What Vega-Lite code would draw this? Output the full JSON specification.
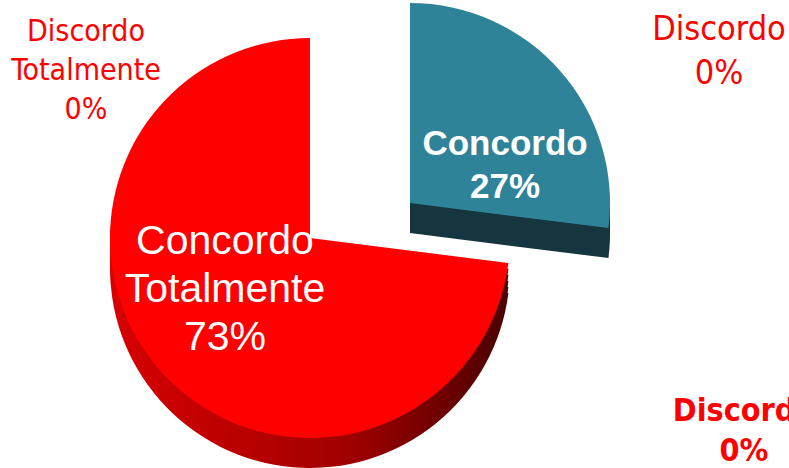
{
  "$schema": "https://vega.github.io/schema/vega-lite/v6.json",
  "width": 620,
  "height": 460,
  "autosize": {"type": "none"},
  "padding": {"left": 0, "top": 8, "right": 169, "bottom": 0},
  "background": "white",
  "config": {"view": {"stroke": null}},
  "data": {"values": [
    {"cat": "Concordo", "value": 27, "ord": 1, "label": ["Concordo", "27%"]},
    {"cat": "Concordo Totalmente", "value": 73, "ord": 2, "label": ["Concordo", "Totalmente", "73%"]},
    {"cat": "Discordo", "value": 0, "ord": 3, "label": ["Discordo", "0%"]},
    {"cat": "Discordo Totalmente", "value": 0, "ord": 4, "label": ["Discordo", "Totalmente", "0%"]}
  ]},
  "transform": [
    {"stack": "value", "groupby": [], "sort": [{"field": "ord", "order": "ascending"}], "as": ["t0", "t1"]}
  ],
  "encoding": {
    "theta": {"field": "t0", "type": "quantitative", "scale": {"domain": [0, 100]}},
    "theta2": {"field": "t1"}
  },
  "layer": [
    {"transform": [{"filter": "datum.cat === 'Concordo'"}], "mark": {"type": "arc", "radius": 200, "xOffset": 100, "yOffset": -5, "fill": "#15363f"}},
    {"transform": [{"filter": "datum.cat === 'Concordo'"}], "mark": {"type": "arc", "radius": 200, "xOffset": 100, "yOffset": -12, "fill": "#15363f"}},
    {"transform": [{"filter": "datum.cat === 'Concordo'"}], "mark": {"type": "arc", "radius": 200, "xOffset": 100, "yOffset": -19, "fill": "#15363f"}},
    {"transform": [{"filter": "datum.cat === 'Concordo'"}], "mark": {"type": "arc", "radius": 200, "xOffset": 100, "yOffset": -27, "fill": "#15363f"}},
    {"transform": [{"filter": "datum.cat === 'Concordo'"}], "mark": {"type": "arc", "radius": 200, "xOffset": 100, "yOffset": -35, "fill": "#2f8399"}},
    {"transform": [{"filter": "datum.cat === 'Concordo Totalmente'"}], "mark": {"type": "arc", "radius": 200, "yOffset": 30, "fill": {"x1": 0, "y1": 0, "x2": 1, "y2": 0, "gradient": "linear", "stops": [{"offset": 0, "color": "#d80000"}, {"offset": 0.6, "color": "#a00000"}, {"offset": 1, "color": "#4a0000"}]}}},
    {"transform": [{"filter": "datum.cat === 'Concordo Totalmente'"}], "mark": {"type": "arc", "radius": 200, "yOffset": 24, "fill": {"x1": 0, "y1": 0, "x2": 1, "y2": 0, "gradient": "linear", "stops": [{"offset": 0, "color": "#d80000"}, {"offset": 0.6, "color": "#a00000"}, {"offset": 1, "color": "#4a0000"}]}}},
    {"transform": [{"filter": "datum.cat === 'Concordo Totalmente'"}], "mark": {"type": "arc", "radius": 200, "yOffset": 18, "fill": {"x1": 0, "y1": 0, "x2": 1, "y2": 0, "gradient": "linear", "stops": [{"offset": 0, "color": "#d80000"}, {"offset": 0.6, "color": "#a00000"}, {"offset": 1, "color": "#4a0000"}]}}},
    {"transform": [{"filter": "datum.cat === 'Concordo Totalmente'"}], "mark": {"type": "arc", "radius": 200, "yOffset": 12, "fill": {"x1": 0, "y1": 0, "x2": 1, "y2": 0, "gradient": "linear", "stops": [{"offset": 0, "color": "#d80000"}, {"offset": 0.6, "color": "#a00000"}, {"offset": 1, "color": "#4a0000"}]}}},
    {"transform": [{"filter": "datum.cat === 'Concordo Totalmente'"}], "mark": {"type": "arc", "radius": 200, "yOffset": 6, "fill": {"x1": 0, "y1": 0, "x2": 1, "y2": 0, "gradient": "linear", "stops": [{"offset": 0, "color": "#d80000"}, {"offset": 0.6, "color": "#a00000"}, {"offset": 1, "color": "#4a0000"}]}}},
    {"transform": [{"filter": "datum.cat === 'Concordo Totalmente'"}], "mark": {"type": "arc", "radius": 200, "fill": "#ff0000"}},
    {
      "mark": {"type": "text", "radius": 100, "dx": -10, "dy": -62, "fill": "white", "font": "Liberation Sans", "fontSize": 41, "lineHeight": 48},
      "encoding": {
        "theta": {"field": "value", "type": "quantitative", "stack": true, "scale": {"domain": [0, 100]}},
        "theta2": null,
        "order": {"field": "ord"},
        "text": {"condition": {"test": "datum.cat === 'Concordo Totalmente'", "field": "label"}, "value": ""}
      }
    },
    {
      "mark": {"type": "text", "radius": 100, "dx": 120, "dy": -28, "fill": "white", "font": "Liberation Sans", "fontWeight": "bold", "fontSize": 35, "lineHeight": 43},
      "encoding": {
        "theta": {"field": "value", "type": "quantitative", "stack": true, "scale": {"domain": [0, 100]}},
        "theta2": null,
        "order": {"field": "ord"},
        "text": {"condition": {"test": "datum.cat === 'Concordo'", "field": "label"}, "value": ""}
      }
    },
    {
      "mark": {"type": "text", "radius": 220, "dx": -224, "dy": 14, "fill": "#ff0000", "font": "DejaVu Sans Condensed", "fontSize": 30, "lineHeight": 39},
      "encoding": {
        "theta": {"field": "value", "type": "quantitative", "stack": true, "scale": {"domain": [0, 100]}},
        "theta2": null,
        "order": {"field": "ord"},
        "text": {"condition": {"test": "datum.cat === 'Discordo Totalmente'", "field": "label"}, "value": ""}
      }
    },
    {
      "mark": {"type": "text", "radius": 220, "dx": 409, "dy": 12, "fill": "#ff0000", "font": "DejaVu Sans Condensed", "fontSize": 34, "lineHeight": 44},
      "encoding": {
        "theta": {"field": "value", "type": "quantitative", "stack": true, "scale": {"domain": [0, 100]}},
        "theta2": null,
        "order": {"field": "ord"},
        "text": {"condition": {"test": "datum.cat === 'Discordo'", "field": "label"}, "value": ""}
      }
    },
    {
      "mark": {"type": "text", "radius": 220, "dx": 434, "dy": 393, "fill": "#ff0000", "font": "DejaVu Sans Condensed", "fontWeight": "bold", "fontSize": 32, "lineHeight": 40},
      "encoding": {
        "theta": {"field": "value", "type": "quantitative", "stack": true, "scale": {"domain": [0, 100]}},
        "theta2": null,
        "order": {"field": "ord"},
        "text": {"condition": {"test": "datum.cat === 'Discordo'", "field": "label"}, "value": ""}
      }
    }
  ]
}
